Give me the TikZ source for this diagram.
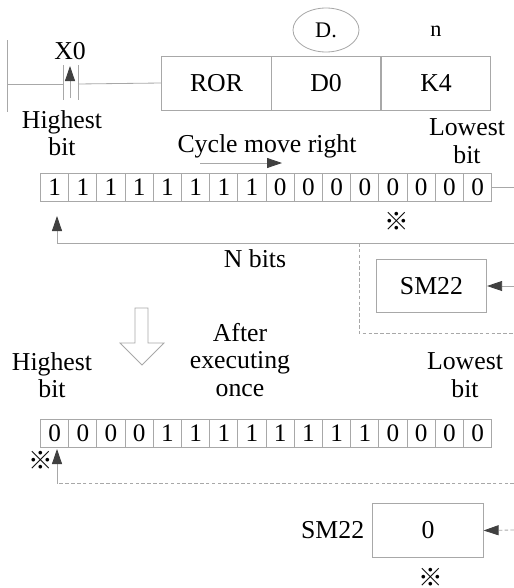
\documentclass[tikz,border=0pt]{standalone}
\usepackage{fontspec}
\setmainfont{Liberation Serif}
\newfontfamily\cjk{Noto Sans CJK SC}
\usepackage{tikz}
\usetikzlibrary{arrows.meta,shapes.geometric,positioning}
\definecolor{linegray}{HTML}{A8A8A8}
\definecolor{tipgray}{HTML}{404040}
\tikzset{
  txt/.style={font=\fontsize{22}{23.5}\selectfont,inner sep=0pt,align=center},
  small/.style={font=\fontsize{19}{21}\selectfont,inner sep=0pt},
  wire/.style={linegray,line width=0.7pt},
  dashwire/.style={wire,dash pattern=on 3pt off 2pt},
  tip/.style={-{Triangle[length=0.45cm,width=0.3cm,color=tipgray]}},
  cell/.style={draw=linegray,line width=0.7pt,minimum width=0.846cm,minimum height=0.84cm,inner sep=0pt,font=\fontsize{21.5}{22}\selectfont},
  insbox/.style={draw=linegray,line width=0.7pt,minimum width=3.29cm,minimum height=1.62cm,inner sep=0pt,font=\fontsize{22}{22}\selectfont},
  regbox/.style={draw=linegray,line width=0.7pt,minimum width=3.31cm,minimum height=1.6cm,inner sep=0pt,font=\fontsize{22}{22}\selectfont},
  refmark/.style={font=\cjk\fontsize{21}{22}\selectfont,inner sep=0pt}
}
\begin{document}
\begin{tikzpicture}[x=0.03cm,y=-0.03cm]
\useasboundingbox (0,0) rectangle (514,588);
% ladder rung
\coordinate (railtop) at (7,40);
\coordinate (railbot) at (7,112);
\coordinate (railmid) at (7,84);
\coordinate (cl) at (63,84);
\coordinate (cr) at (78,84);
\draw[wire] (railtop)--(railbot);
\node[txt] (x0) at (70,51) {X0};
\draw[wire] (cl)++(0,-19)--++(0,35);
\draw[wire] (cr)++(0,-19)--++(0,35);
\coordinate (cu) at (70,98);
\coordinate (cv) at (70,66);
\draw[wire,tip] (cu)--(cv);
\node[insbox] (ror) at (216.5,83) {ROR};
\node[insbox] (dd) at (326,83) {D0};
\node[insbox] (kk) at (436,83) {K4};
\draw[wire] (railmid)--(cl);
\draw[wire] (cr)--(ror.west);
\node[draw=linegray,line width=0.7pt,ellipse,minimum width=1.98cm,minimum height=1.32cm,small] (dmod) at (326,30) {D.};
\node[small] (nn) at (436,31) {n};
% before
\node[txt] (hi1) at (62,133) {Highest\\bit};
\node[txt] (lo1) at (467,141) {Lowest\\bit};
\node[txt] (cmr) at (267,146) {Cycle move right};
\coordinate (ca) at (200,163);
\coordinate (cb) at (282,163);
\draw[wire,tip] (ca)--(cb);
\foreach \b [count=\i] in {1,1,1,1,1,1,1,1,0,0,0,0,0,0,0,0}{
  \node[cell] (p\i) at ({40.5+28.2*(\i-0.5)},187) {\b};}
\coordinate (pend) at (514,187);
\draw[wire] (p16.east)--(pend);
\node[refmark] (mk1) at (397,221) {※};
\coordinate (fb1) at (514,243);
\coordinate (fb2) at (57,216);
\draw[wire,tip] (fb1)-|(fb2);
\node[txt] (nb) at (255,259) {N bits};
\coordinate (dv) at (359,243);
\coordinate (dh) at (514,333);
\draw[dashwire] (dv)|-(dh);
\node[regbox] (sm1) at (431.5,286) {SM22};
\coordinate (smin1) at (514,286);
\draw[wire,tip] (smin1)--(sm1.east);
% hollow arrow
\draw[linegray,line width=0.7pt] (135,308)--(148,308)--(148,343)--(164,343)--(142,365)--(120,343)--(135,343)--cycle;
% after
\node[txt] (aft) at (240,360) {After\\executing\\once};
\node[txt] (hi2) at (52,375) {Highest\\bit};
\node[txt] (lo2) at (465,375) {Lowest\\bit};
\foreach \b [count=\i] in {0,0,0,0,1,1,1,1,1,1,1,1,0,0,0,0}{
  \node[cell] (q\i) at ({40.5+28.2*(\i-0.5)},433) {\b};}
\node[refmark] (mk2) at (41,460) {※};
\coordinate (fb3) at (514,483);
\coordinate (fbc) at (57,483);
\coordinate (fb4) at (57,449);
\draw[dashwire] (fb3)--(fbc);
\draw[wire,tip] (fbc)--(fb4);
\node[regbox] (sm2) at (428,530.5) {0};
\node[txt,left=0.24cm of sm2] (smlab) {SM22};
\coordinate (smin2) at (514,530);
\draw[dashwire,tip] (smin2)--(sm2.east);
\node[refmark] (mk3) at (431,577) {※};
\end{tikzpicture}
\end{document}
